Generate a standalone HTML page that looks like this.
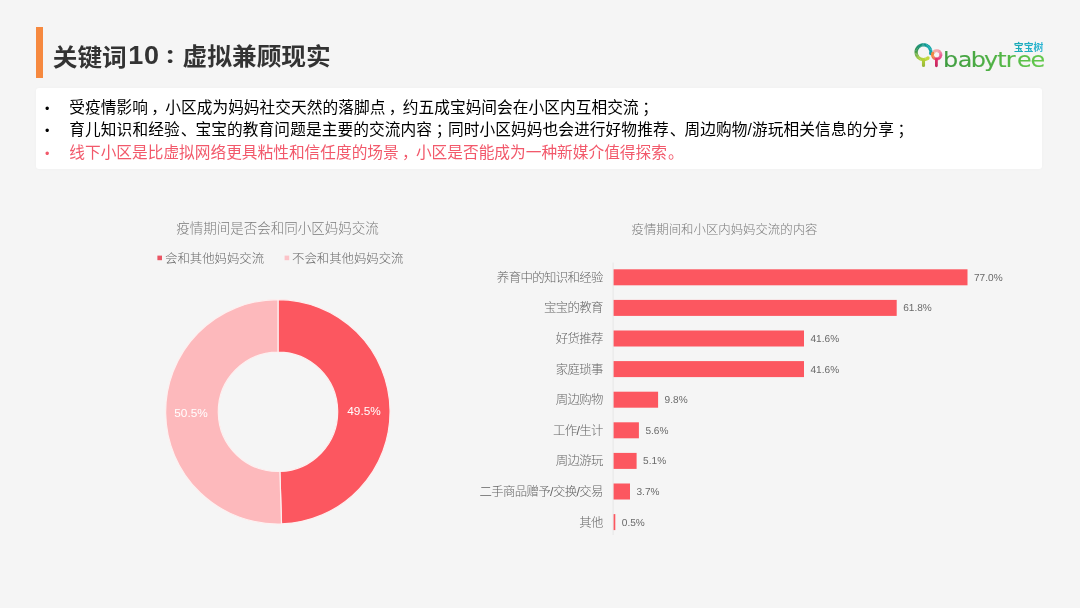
<!DOCTYPE html>
<html lang="zh-CN">
<head>
<meta charset="utf-8">
<title>关键词10：虚拟兼顾现实</title>
<style>
html,body{margin:0;padding:0;}
body{width:1080px;height:608px;overflow:hidden;background:#f5f5f5;position:relative;
 font-family:"Liberation Sans","Noto Sans CJK SC",sans-serif;}
.abs{position:absolute;white-space:nowrap;}
#accent{left:36.3px;top:26.5px;width:6.6px;height:51px;background:#f6893f;}
.tt{top:38.7px;font-size:24.7px;line-height:36px;font-weight:700;color:#333;
 font-family:"Liberation Sans","Noto Sans CJK SC",sans-serif;}
#box{left:35.6px;top:87.8px;width:1006.4px;height:81px;background:#fff;border-radius:3px;
 box-shadow:0 0 3px rgba(0,0,0,0.03);}
.line{left:69.3px;font-size:15.7px;line-height:22px;color:#000;
 font-family:"Liberation Sans","Noto Sans CJK SC",sans-serif;}
.bul{left:42.1px;margin-top:0.7px;width:10px;text-align:center;font-size:12.6px;line-height:22px;color:#000;}
.red{color:#f2596b;}
.pc{position:relative;left:3.2px;margin-right:1.5px;}
.ps{position:relative;left:3.6px;}
.pd{position:relative;left:1px;}
svg text{font-family:"Liberation Sans","Noto Sans CJK SC",sans-serif;}
.ct1{font-size:13.5px;font-weight:300;fill:#7a7a7a;}
.ct2{font-size:12.4px;font-weight:300;fill:#7a7a7a;}
.lg{font-size:12.4px;font-weight:300;fill:#686868;}
.cl{font-size:12.4px;font-weight:300;fill:#646464;letter-spacing:-0.62px;}
.vl{font-size:10.1px;fill:#6a6a6a;text-rendering:geometricPrecision;}
.dl{font-size:11.8px;fill:#fff;}
</style>
</head>
<body>
<div id="accent" class="abs"></div>
<div class="abs tt" style="left:52.7px;transform:scaleY(0.95);transform-origin:0 18px">关键词<span style="font-size:27px;letter-spacing:0.6px;margin-left:1.6px;position:relative;top:-1.6px;display:inline-block;transform:scaleY(1.04)">10</span></div>
<div class="abs tt" style="left:164px;transform:scaleY(0.8);transform-origin:50% 17.5px">：</div>
<div class="abs tt" style="left:182.6px;transform:scaleY(0.95);transform-origin:0 18px">虚拟兼顾现实</div>
<div id="box" class="abs"></div>
<div class="abs bul" style="top:97.2px">•</div>
<div class="abs line" style="top:97.2px;letter-spacing:0.045px">受疫情影响<span class="pc">，</span>小区成为妈妈社交天然的落脚点<span class="pc">，</span>约五成宝妈间会在小区内互相交流<span class="ps">；</span></div>
<div class="abs bul" style="top:119.2px">•</div>
<div class="abs line" style="top:119.2px;letter-spacing:0.085px">育儿知识和经验<span class="pd">、</span>宝宝的教育问题是主要的交流内容<span class="ps">；</span>同时小区妈妈也会进行好物推荐<span class="pd">、</span>周边购物/游玩相关信息的分享<span class="ps">；</span></div>
<div class="abs bul red" style="top:142.4px">•</div>
<div class="abs line red" style="top:142.4px">线下小区是比虚拟网络更具粘性和信任度的场景<span class="pc">，</span>小区是否能成为一种新媒介值得探索<span class="pd">。</span></div>
<svg class="abs" style="left:0;top:0" width="1080" height="608" viewBox="0 0 1080 608">
 <g id="donut" stroke="#fdf0f0" stroke-width="1.2" stroke-linejoin="round">
  <path d="M278.00 299.60 A112.2 112.2 0 0 1 281.52 523.94 L279.88 471.47 A59.7 59.7 0 0 0 278.00 352.10 Z" fill="#fc5760"/>
  <path d="M281.52 523.94 A112.2 112.2 0 1 1 278.00 299.60 L278.00 352.10 A59.7 59.7 0 1 0 279.88 471.47 Z" fill="#fdb9bc"/>
 </g>
 <text class="dl" x="191" y="416.9" text-anchor="middle">50.5%</text>
 <text class="dl" x="364" y="415.4" text-anchor="middle">49.5%</text>
 <text class="ct1" x="277.6" y="233.2" text-anchor="middle">疫情期间是否会和同小区妈妈交流</text>
 <rect x="157.4" y="255.6" width="4.6" height="4.6" fill="#ea5564"/>
 <text class="lg" x="165" y="263.2">会和其他妈妈交流</text>
 <rect x="284.6" y="255.6" width="4.6" height="4.6" fill="#fcc3c8"/>
 <text class="lg" x="292" y="263.2">不会和其他妈妈交流</text>
 <text class="ct2" x="724.5" y="233.8" text-anchor="middle">疫情期间和小区内妈妈交流的内容</text>
 <line x1="613.1" y1="262.5" x2="613.1" y2="535" stroke="#e6e6e6" stroke-width="1"/>
 <g id="bars">
    <rect x="613.6" y="269.3" width="353.9" height="16.0" fill="#fc5760"/>
  <rect x="613.6" y="299.9" width="283.1" height="16.0" fill="#fc5760"/>
  <rect x="613.6" y="330.5" width="190.4" height="16.0" fill="#fc5760"/>
  <rect x="613.6" y="361.1" width="190.4" height="16.0" fill="#fc5760"/>
  <rect x="613.6" y="391.7" width="44.5" height="16.0" fill="#fc5760"/>
  <rect x="613.6" y="422.3" width="25.3" height="16.0" fill="#fc5760"/>
  <rect x="613.6" y="452.9" width="23.0" height="16.0" fill="#fc5760"/>
  <rect x="613.6" y="483.5" width="16.4" height="16.0" fill="#fc5760"/>
  <rect x="613.6" y="514.1" width="1.7" height="16.0" fill="#fc5760"/>
 </g>
 <g id="cats">
    <text class="cl" x="602.8" y="281.7" text-anchor="end">养育中的知识和经验</text>
  <text class="cl" x="602.8" y="312.3" text-anchor="end">宝宝的教育</text>
  <text class="cl" x="602.8" y="342.9" text-anchor="end">好货推荐</text>
  <text class="cl" x="602.8" y="373.5" text-anchor="end">家庭琐事</text>
  <text class="cl" x="602.8" y="404.1" text-anchor="end">周边购物</text>
  <text class="cl" x="602.8" y="434.7" text-anchor="end">工作/生计</text>
  <text class="cl" x="602.8" y="465.3" text-anchor="end">周边游玩</text>
  <text class="cl" x="602.8" y="495.9" text-anchor="end">二手商品赠予/交换/交易</text>
  <text class="cl" x="602.8" y="526.5" text-anchor="end">其他</text>
 </g>
 <g id="vals">
    <text class="vl" x="974.0" y="280.8">77.0%</text>
  <text class="vl" x="903.2" y="311.4">61.8%</text>
  <text class="vl" x="810.5" y="342.0">41.6%</text>
  <text class="vl" x="810.5" y="372.6">41.6%</text>
  <text class="vl" x="664.6" y="403.2">9.8%</text>
  <text class="vl" x="645.4" y="433.8">5.6%</text>
  <text class="vl" x="643.1" y="464.4">5.1%</text>
  <text class="vl" x="636.5" y="495.0">3.7%</text>
  <text class="vl" x="621.8" y="525.6">0.5%</text>
 </g>
</svg>
<svg class="abs" style="left:900px;top:30px" width="160" height="50" viewBox="900 30 160 50">
 <defs>
  <linearGradient id="gTxt" x1="822" y1="0" x2="908" y2="0" gradientUnits="userSpaceOnUse">
   <stop offset="0" stop-color="#3f9c40"/><stop offset="1" stop-color="#62c94b"/>
  </linearGradient>
  <linearGradient id="gTr1" x1="0" y1="59" x2="0" y2="67" gradientUnits="userSpaceOnUse">
   <stop offset="0" stop-color="#b6d435"/><stop offset="1" stop-color="#94b53a"/>
  </linearGradient>
  <linearGradient id="gTr2" x1="0" y1="59" x2="0" y2="67" gradientUnits="userSpaceOnUse">
   <stop offset="0" stop-color="#e3306a"/><stop offset="1" stop-color="#c0265e"/>
  </linearGradient>
  <linearGradient id="gCn" x1="1014" y1="0" x2="1044" y2="0" gradientUnits="userSpaceOnUse">
   <stop offset="0" stop-color="#18a9b4"/><stop offset="1" stop-color="#2fb6d6"/>
  </linearGradient>
 </defs>
 <g fill="none">
  <path d="M928.03 57.99 A7.35 7.35 0 0 1 926.87 58.73" stroke="rgb(193,216,57)" stroke-width="3.3"/>
  <path d="M926.96 58.69 A7.35 7.35 0 0 1 925.69 59.22" stroke="rgb(190,215,56)" stroke-width="3.3"/>
  <path d="M925.79 59.19 A7.35 7.35 0 0 1 924.45 59.49" stroke="rgb(186,214,55)" stroke-width="3.3"/>
  <path d="M924.55 59.48 A7.35 7.35 0 0 1 923.17 59.54" stroke="rgb(183,212,53)" stroke-width="3.3"/>
  <path d="M923.28 59.55 A7.35 7.35 0 0 1 921.91 59.38" stroke="rgb(178,210,54)" stroke-width="3.3"/>
  <path d="M922.01 59.40 A7.35 7.35 0 0 1 920.70 58.99" stroke="rgb(172,207,56)" stroke-width="3.3"/>
  <path d="M920.79 59.03 A7.35 7.35 0 0 1 919.57 58.41" stroke="rgb(166,204,57)" stroke-width="3.3"/>
  <path d="M919.65 58.46 A7.35 7.35 0 0 1 918.55 57.64" stroke="rgb(161,201,59)" stroke-width="3.3"/>
  <path d="M918.63 57.70 A7.35 7.35 0 0 1 917.69 56.70" stroke="rgb(153,196,60)" stroke-width="3.3"/>
  <path d="M917.75 56.78 A7.35 7.35 0 0 1 917.00 55.63" stroke="rgb(136,188,63)" stroke-width="3.3"/>
  <path d="M917.05 55.72 A7.35 7.35 0 0 1 916.51 54.46" stroke="rgb(118,180,66)" stroke-width="3.3"/>
  <path d="M916.54 54.55 A7.35 7.35 0 0 1 916.22 53.22" stroke="rgb(101,171,68)" stroke-width="3.3"/>
  <path d="M916.24 53.32 A7.35 7.35 0 0 1 916.15 51.95" stroke="rgb(84,163,71)" stroke-width="3.3"/>
  <path d="M916.15 52.05 A7.35 7.35 0 0 1 916.31 50.68" stroke="rgb(69,156,76)" stroke-width="3.3"/>
  <path d="M916.29 50.78 A7.35 7.35 0 0 1 916.68 49.46" stroke="rgb(54,151,82)" stroke-width="3.3"/>
  <path d="M916.64 49.56 A7.35 7.35 0 0 1 917.25 48.33" stroke="rgb(40,145,87)" stroke-width="3.3"/>
  <path d="M917.20 48.41 A7.35 7.35 0 0 1 918.02 47.31" stroke="rgb(25,140,93)" stroke-width="3.3"/>
  <path d="M917.95 47.38 A7.35 7.35 0 0 1 918.94 46.43" stroke="rgb(13,135,99)" stroke-width="3.3"/>
  <path d="M918.86 46.50 A7.35 7.35 0 0 1 920.01 45.73" stroke="rgb(13,138,107)" stroke-width="3.3"/>
  <path d="M919.92 45.78 A7.35 7.35 0 0 1 921.17 45.23" stroke="rgb(13,141,115)" stroke-width="3.3"/>
  <path d="M921.08 45.26 A7.35 7.35 0 0 1 922.41 44.93" stroke="rgb(12,144,123)" stroke-width="3.3"/>
  <path d="M922.31 44.95 A7.35 7.35 0 0 1 923.68 44.85" stroke="rgb(12,147,131)" stroke-width="3.3"/>
  <path d="M923.58 44.85 A7.35 7.35 0 0 1 924.95 44.99" stroke="rgb(13,150,139)" stroke-width="3.3"/>
  <path d="M924.85 44.97 A7.35 7.35 0 0 1 926.17 45.35" stroke="rgb(13,154,147)" stroke-width="3.3"/>
  <path d="M926.07 45.32 A7.35 7.35 0 0 1 927.31 45.92" stroke="rgb(14,158,155)" stroke-width="3.3"/>
  <path d="M927.22 45.86 A7.35 7.35 0 0 1 928.34 46.67" stroke="rgb(15,162,163)" stroke-width="3.3"/>
  <path d="M928.26 46.60 A7.35 7.35 0 0 1 929.22 47.59" stroke="rgb(16,166,170)" stroke-width="3.3"/>
  <path d="M929.16 47.51 A7.35 7.35 0 0 1 929.93 48.64" stroke="rgb(16,165,170)" stroke-width="3.3"/>
  <path d="M929.88 48.55 A7.35 7.35 0 0 1 930.45 49.81" stroke="rgb(16,165,169)" stroke-width="3.3"/>
  <path d="M930.41 49.71 A7.35 7.35 0 0 1 930.76 51.04" stroke="rgb(15,164,169)" stroke-width="3.3"/>
  <path d="M930.74 50.94 A7.35 7.35 0 0 1 930.85 52.31" stroke="rgb(15,164,169)" stroke-width="3.3"/>
  <path d="M930.85 52.21 A7.35 7.35 0 0 1 930.74 53.48" stroke="rgb(15,163,168)" stroke-width="3.3"/>
  <circle cx="928.03" cy="57.99" r="1.65" fill="rgb(195,217,58)" stroke="none"/>
  <circle cx="930.74" cy="53.48" r="1.65" fill="rgb(15,163,168)" stroke="none"/>
  <path d="M923.5 59.6 L923.5 65.4" stroke="url(#gTr1)" stroke-width="3.1" stroke-linecap="round"/>
  <path d="M934.32 51.40 A4.15 4.15 0 0 1 935.14 50.95" stroke="rgb(244,168,166)" stroke-width="2.9"/>
  <path d="M935.09 50.98 A4.15 4.15 0 0 1 935.98 50.71" stroke="rgb(243,165,165)" stroke-width="2.9"/>
  <path d="M935.92 50.72 A4.15 4.15 0 0 1 936.85 50.65" stroke="rgb(243,161,164)" stroke-width="2.9"/>
  <path d="M936.80 50.65 A4.15 4.15 0 0 1 937.72 50.78" stroke="rgb(242,158,163)" stroke-width="2.9"/>
  <path d="M937.66 50.76 A4.15 4.15 0 0 1 938.54 51.08" stroke="rgb(242,154,162)" stroke-width="2.9"/>
  <path d="M938.49 51.06 A4.15 4.15 0 0 1 939.28 51.55" stroke="rgb(241,141,157)" stroke-width="2.9"/>
  <path d="M939.24 51.51 A4.15 4.15 0 0 1 939.91 52.16" stroke="rgb(240,128,152)" stroke-width="2.9"/>
  <path d="M939.87 52.12 A4.15 4.15 0 0 1 940.39 52.90" stroke="rgb(238,115,148)" stroke-width="2.9"/>
  <path d="M940.36 52.84 A4.15 4.15 0 0 1 940.70 53.71" stroke="rgb(237,99,141)" stroke-width="2.9"/>
  <path d="M940.69 53.66 A4.15 4.15 0 0 1 940.84 54.58" stroke="rgb(234,82,134)" stroke-width="2.9"/>
  <path d="M940.84 54.52 A4.15 4.15 0 0 1 940.80 55.45" stroke="rgb(232,65,127)" stroke-width="2.9"/>
  <path d="M940.81 55.39 A4.15 4.15 0 0 1 940.57 56.30" stroke="rgb(231,59,123)" stroke-width="2.9"/>
  <path d="M940.59 56.24 A4.15 4.15 0 0 1 940.17 57.08" stroke="rgb(230,54,119)" stroke-width="2.9"/>
  <path d="M940.20 57.03 A4.15 4.15 0 0 1 939.62 57.75" stroke="rgb(229,50,115)" stroke-width="2.9"/>
  <path d="M939.66 57.71 A4.15 4.15 0 0 1 938.93 58.30" stroke="rgb(228,46,112)" stroke-width="2.9"/>
  <path d="M938.98 58.27 A4.15 4.15 0 0 1 938.15 58.69" stroke="rgb(228,47,110)" stroke-width="2.9"/>
  <path d="M938.20 58.67 A4.15 4.15 0 0 1 937.30 58.91" stroke="rgb(227,47,108)" stroke-width="2.9"/>
  <path d="M937.36 58.90 A4.15 4.15 0 0 1 936.42 58.94" stroke="rgb(227,48,106)" stroke-width="2.9"/>
  <path d="M936.48 58.94 A4.15 4.15 0 0 1 935.56 58.79" stroke="rgb(229,59,97)" stroke-width="2.9"/>
  <path d="M935.62 58.81 A4.15 4.15 0 0 1 934.75 58.46" stroke="rgb(231,74,85)" stroke-width="2.9"/>
  <path d="M934.80 58.49 A4.15 4.15 0 0 1 934.03 57.97" stroke="rgb(234,88,73)" stroke-width="2.9"/>
  <path d="M934.07 58.01 A4.15 4.15 0 0 1 933.42 57.34" stroke="rgb(236,100,68)" stroke-width="2.9"/>
  <path d="M933.45 57.39 A4.15 4.15 0 0 1 932.96 56.60" stroke="rgb(237,112,64)" stroke-width="2.9"/>
  <path d="M932.98 56.65 A4.15 4.15 0 0 1 932.67 55.77" stroke="rgb(239,123,60)" stroke-width="2.9"/>
  <path d="M932.68 55.83 A4.15 4.15 0 0 1 932.55 54.90" stroke="rgb(240,130,59)" stroke-width="2.9"/>
  <path d="M932.55 54.96 A4.15 4.15 0 0 1 932.62 54.03" stroke="rgb(240,132,61)" stroke-width="2.9"/>
  <path d="M932.61 54.09 A4.15 4.15 0 0 1 932.85 53.25" stroke="rgb(240,135,64)" stroke-width="2.9"/>
  <circle cx="934.32" cy="51.40" r="1.45" fill="rgb(244,170,166)" stroke="none"/>
  <circle cx="932.85" cy="53.25" r="1.45" fill="rgb(240,136,65)" stroke="none"/>
  <path d="M936.4 59.2 L936.4 65.8" stroke="url(#gTr2)" stroke-width="2.8" stroke-linecap="round"/>
 </g>
 <text transform="scale(1.15,1)" x="819.94 832.82 844.15 855.67 867.15 874.65 884.41 896.19" y="67.0" style="font-family:'DejaVu Sans','Liberation Sans',sans-serif" font-size="20.8" fill="url(#gTxt)" stroke="url(#gTxt)" stroke-width="0.12">babytree</text>
 <text x="1013.8" y="50.6" font-weight="700" font-size="9.9" fill="url(#gCn)">宝宝树</text>
</svg>
</body>
</html>
